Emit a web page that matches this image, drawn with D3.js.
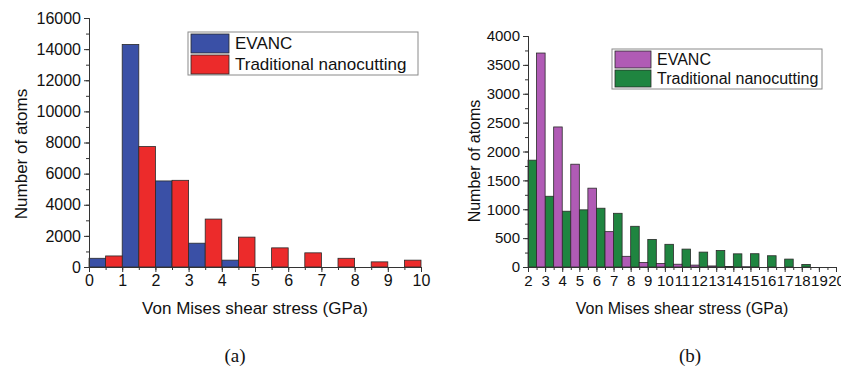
<!DOCTYPE html>
<html>
<head>
<meta charset="utf-8">
<script src="https://cdn.jsdelivr.net/npm/d3@7"></script>
<style>
  body { margin: 0; background: #fff; }
  text { font-family: "Liberation Sans", Arial, sans-serif; fill: #111; }
</style>
</head>
<body>
<div id="my_dataviz"></div>
<script>
// Dane wykresu (a): początek przedziału i liczba atomów
var binsA = [0, 1, 2, 3, 4, 5, 6, 7, 8, 9];
var evancA = [560, 14300, 5530, 1530, 440, 0, 0, 0, 0, 0];
var tradA = [710, 7740, 5570, 3080, 1920, 1230, 910, 560, 330, 440];
var xTicksA = [0, 1, 2, 3, 4, 5, 6, 7, 8, 9, 10];
var yTicksA = [0, 2000, 4000, 6000, 8000, 10000, 12000, 14000, 16000];

// Dane wykresu (b)
var binsB = [2, 3, 4, 5, 6, 7, 8, 9, 10, 11, 12, 13, 14, 15, 16, 17, 18];
var tradB = [1850, 1225, 966, 990, 1018, 930, 705, 478, 393, 310, 258, 285, 228, 230, 195, 137, 45];
var evancB = [3705, 2425, 1780, 1365, 612, 185, 78, 60, 48, 33, 18, 8, 5, 0, 0, 0, 0];
var xTicksB = [2, 3, 4, 5, 6, 7, 8, 9, 10, 11, 12, 13, 14, 15, 16, 17, 18, 19, 20];
var yTicksB = [0, 500, 1000, 1500, 2000, 2500, 3000, 3500, 4000];

var seriesNames = ["EVANC", "Traditional nanocutting"];

var svg = d3.select("#my_dataviz")
  .append("svg")
    .attr("width", 841)
    .attr("height", 371);

// Rysuje jeden panel: osie, słupki, legendę
function drawPanel(p) {
  var x = d3.scaleLinear().domain(p.xDomain).range(p.xRange);
  var y = d3.scaleLinear().domain(p.yDomain).range(p.yRange);
  var g = svg.append("g");

  // słupki: pierwsza seria w lewej połowie przedziału, druga w prawej
  p.series.forEach(function(s, k) {
    g.selectAll(null)
      .data(p.bins.map(function(b, i) { return { b: b, v: s.values[i] }; }))
      .enter()
      .append("rect")
        .attr("x", function(d) { return x(d.b + k * 0.5); })
        .attr("width", function(d) { return x(d.b + 0.5) - x(d.b); })
        .attr("y", function(d) { return y(d.v); })
        .attr("height", function(d) { return y(0) - y(d.v); })
        .attr("fill", s.color)
        .attr("stroke", "#2a2a2a")
        .attr("stroke-width", 0.8);
  });

  // oś X: drobne podziałki co 0.5
  g.append("g")
    .attr("transform", "translate(0," + p.yRange[0] + ")")
    .call(d3.axisBottom(x).tickValues(d3.range(p.xDomain[0], p.xDomain[1] + 0.01, 0.5)).tickFormat("").tickSize(3));
  var ax = g.append("g")
    .attr("transform", "translate(0," + p.yRange[0] + ")")
    .call(d3.axisBottom(x).tickValues(p.xTicks).tickFormat(d3.format("d")).tickSize(5).tickPadding(3));
  ax.selectAll("text").style("font-size", p.tickFont + "px");

  // oś Y
  g.append("g")
    .attr("transform", "translate(" + p.xRange[0] + ",0)")
    .call(d3.axisLeft(y).tickValues(d3.range(p.yDomain[0], p.yDomain[1] + 1, p.yMinor)).tickFormat("").tickSize(3));
  var ay = g.append("g")
    .attr("transform", "translate(" + p.xRange[0] + ",0)")
    .call(d3.axisLeft(y).tickValues(p.yTicks).tickFormat(d3.format("d")).tickSize(5).tickPadding(3));
  ay.selectAll("text").style("font-size", p.yTickFont + "px");

  g.selectAll(".domain, .tick line").attr("stroke", "#333");
  g.selectAll(".tick text").attr("fill", "#111");

  // tytuły osi
  g.append("text")
    .attr("x", (p.xRange[0] + p.xRange[1]) / 2)
    .attr("y", p.xTitleY)
    .attr("text-anchor", "middle")
    .style("font-size", p.titleFont + "px")
    .text("Von Mises shear stress (GPa)");

  g.append("text")
    .attr("transform", "translate(" + p.yTitleX + "," + p.yTitleY + ") rotate(-90)")
    .attr("text-anchor", "middle")
    .attr("dy", "0.35em")
    .style("font-size", p.titleFont + "px")
    .text("Number of atoms");

  // legenda
  var L = p.legend;
  var legend = g.append("g").attr("transform", "translate(" + L.x + "," + L.y + ")");
  legend.append("rect")
    .attr("width", L.w)
    .attr("height", L.h)
    .attr("fill", "#fff")
    .attr("stroke", "#8a8a8a")
    .attr("stroke-width", 1);
  seriesNames.forEach(function(name, i) {
    var s = p.series.filter(function(d) { return d.name === name; })[0];
    legend.append("rect")
      .attr("x", 3)
      .attr("y", 2 + i * L.row)
      .attr("width", L.sw)
      .attr("height", L.row - 2)
      .attr("fill", s.color)
      .attr("stroke", "#2a2a2a")
      .attr("stroke-width", 0.8);
    legend.append("text")
      .attr("x", L.sw + 9)
      .attr("y", 1 + i * L.row + L.row / 2)
      .attr("dy", "0.35em")
      .style("font-size", L.font + "px")
      .text(name);
  });

  // podpis panelu
  svg.append("text")
    .attr("x", p.labelX)
    .attr("y", 362)
    .attr("text-anchor", "middle")
    .style("font-family", "'Liberation Serif', 'Times New Roman', serif")
    .style("font-size", "19px")
    .text(p.label);
}

drawPanel({
  bins: binsA,
  series: [
    { name: "EVANC", values: evancA, color: "#3a50a6" },
    { name: "Traditional nanocutting", values: tradA, color: "#ec2b2b" }
  ],
  xDomain: [0, 10], xRange: [89, 421],
  yDomain: [0, 16000], yRange: [267, 18],
  xTicks: xTicksA, yTicks: yTicksA, yMinor: 1000,
  tickFont: 16, yTickFont: 16, titleFont: 17,
  xTitleY: 314, yTitleX: 21, yTitleY: 154,
  legend: { x: 188, y: 32, w: 230, h: 43, sw: 38, row: 21, font: 17 },
  label: "(a)", labelX: 235
});

drawPanel({
  bins: binsB,
  series: [
    { name: "Traditional nanocutting", values: tradB, color: "#1f8540" },
    { name: "EVANC", values: evancB, color: "#b05bb5" }
  ],
  xDomain: [2, 20], xRange: [528, 836],
  yDomain: [0, 4000], yRange: [267, 36],
  xTicks: xTicksB, yTicks: yTicksB, yMinor: 250,
  tickFont: 15, yTickFont: 15, titleFont: 16,
  xTitleY: 314, yTitleX: 474, yTitleY: 161,
  legend: { x: 612, y: 49, w: 210, h: 40, sw: 36, row: 19, font: 16 },
  label: "(b)", labelX: 690
});
</script>
</body>
</html>
